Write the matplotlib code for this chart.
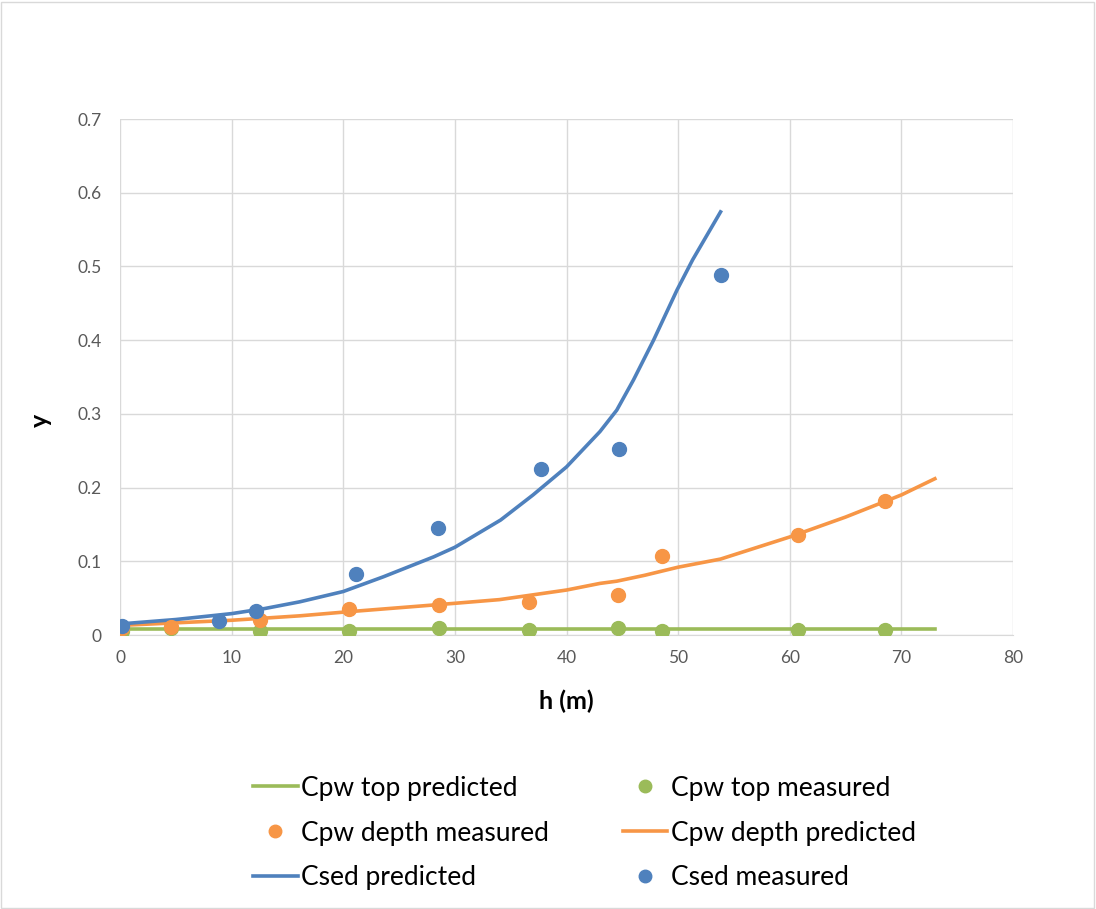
import matplotlib.pyplot as plt
from matplotlib.lines import Line2D
from matplotlib.patches import Rectangle

# measured points
h_sed = [0.2, 8.9, 12.2, 21.1, 28.5, 37.7, 44.7, 53.8]
y_sed = [0.012, 0.019, 0.033, 0.083, 0.145, 0.225, 0.252, 0.488]

h_pw = [0.2, 4.6, 12.5, 20.5, 28.6, 36.6, 44.6, 48.6, 60.7, 68.5]
y_depth = [0.010, 0.011, 0.020, 0.035, 0.041, 0.045, 0.054, 0.107, 0.136, 0.182]
y_top = [0.006, 0.009, 0.005, 0.005, 0.010, 0.007, 0.010, 0.006, 0.007, 0.007]

# predicted curves
h_sed_pred = [0, 5, 10, 13, 16.1, 20, 23.6, 28.1, 30, 34.1, 37, 40, 43, 44.5, 46,
              47.8, 49.9, 51.3, 53.8]
y_sed_pred = [0.015, 0.021, 0.029, 0.036, 0.045, 0.059, 0.079, 0.106, 0.119, 0.156,
              0.190, 0.228, 0.276, 0.305, 0.346, 0.400, 0.468, 0.509, 0.574]

h_depth_pred = [0, 10, 16.1, 20, 30, 34, 40, 43, 44.5, 47, 50, 53.8, 60, 65, 70, 73]
y_depth_pred = [0.013, 0.020, 0.026, 0.031, 0.043, 0.048, 0.061, 0.070, 0.073, 0.081,
                0.092, 0.103, 0.133, 0.160, 0.190, 0.212]

h_top_pred = [0, 73]
y_top_pred = [0.008, 0.008]

BLUE = "#4f81bd"
ORANGE = "#f79646"
GREEN = "#9bbb59"

plt.rcParams['font.family'] = ['Lato', 'DejaVu Sans']

fig = plt.figure(figsize=(10.96, 9.09), dpi=100)
ax = fig.add_axes([120 / 1096, 1 - 635 / 909, 893 / 1096, 516 / 909])

ax.plot(h_top_pred, y_top_pred, color=GREEN, lw=2.6, zorder=3)
ax.plot(h_depth_pred, y_depth_pred, color=ORANGE, lw=2.6, zorder=3)
ax.plot(h_sed_pred, y_sed_pred, color=BLUE, lw=2.6, zorder=3)
ax.plot(h_pw, y_top, 'o', color=GREEN, ms=10, zorder=4)
ax.plot(h_pw, y_depth, 'o', color=ORANGE, ms=10, zorder=4)
ax.plot(h_sed, y_sed, 'o', color=BLUE, ms=10, zorder=4)

ax.set_xlim(0, 80)
ax.set_ylim(0, 0.7)
ax.set_xticks(range(0, 81, 10))
ax.set_yticks([i / 10 for i in range(8)])
ax.set_yticklabels(["0"] + [f"{i / 10:.1f}" for i in range(1, 8)])
ax.grid(True, color="#d9d9d9", lw=1)
ax.set_axisbelow(True)
for s in ["top", "right", "left"]:
    ax.spines[s].set_visible(False)
ax.spines["bottom"].set_color("#d9d9d9")
ax.tick_params(length=0, labelsize=12.5, colors="#595959")
ax.tick_params(axis="y", pad=13)
ax.tick_params(axis="x", pad=11)

ax.set_xlabel("h (m)", fontsize=18, fontweight="bold")
ax.xaxis.set_label_coords(0.5, -(690 - 635) / 516)
ax.set_ylabel("y", fontsize=18, fontweight="bold")
ax.yaxis.set_label_coords(-(120 - 52) / 893, (635 - 420) / 516)

handles = [
    Line2D([], [], color=GREEN, lw=2.6),
    Line2D([], [], color=ORANGE, marker='o', ls='none', ms=9),
    Line2D([], [], color=BLUE, lw=2.6),
    Line2D([], [], color=GREEN, marker='o', ls='none', ms=9),
    Line2D([], [], color=ORANGE, lw=2.6),
    Line2D([], [], color=BLUE, marker='o', ls='none', ms=9),
]
labels = ["Cpw top predicted", "Cpw depth measured", "Csed predicted",
          "Cpw top measured", "Cpw depth predicted", "Csed measured"]
fig.legend(handles, labels, ncol=2, loc="center", bbox_to_anchor=(0.533, 1 - 833 / 909),
           frameon=False, fontsize=19, handlelength=1.7, handletextpad=0.12,
           columnspacing=2.8, labelspacing=0.75)

fig.patches.append(Rectangle((0.001, 0.001), 0.997, 0.997, transform=fig.transFigure,
                             fill=False, edgecolor="#d9d9d9", lw=1))

fig.savefig("out.png", dpi=100)
